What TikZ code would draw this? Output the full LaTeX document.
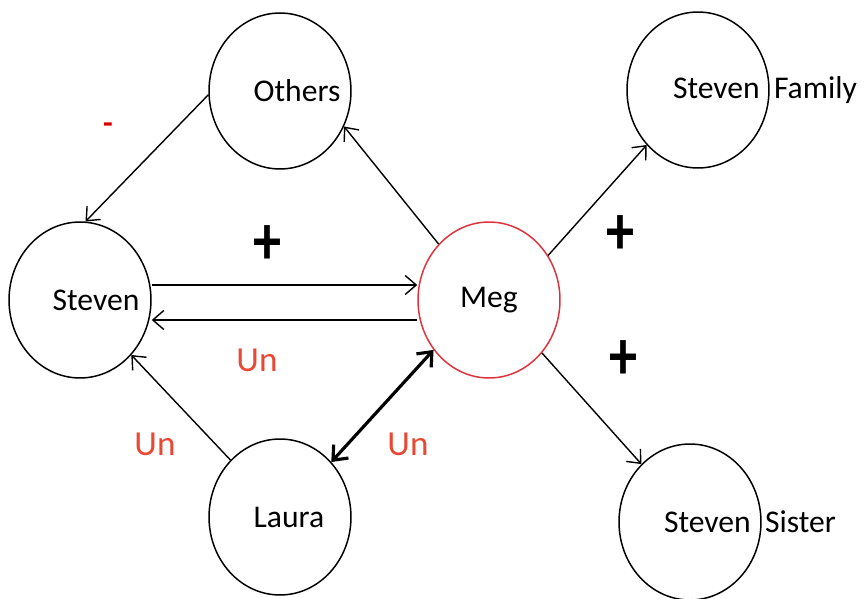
\documentclass[tikz,border=0pt]{standalone}
\usepackage{fontspec}
\usepackage{graphicx}
\setmainfont{Carlito}
\usetikzlibrary{shapes.geometric,arrows.meta}
\definecolor{unred}{RGB}{232,72,52}
\definecolor{megred}{RGB}{222,50,60}
\newcommand{\tallplus}{\scalebox{1}[1.25]{+}}
\begin{document}
\begin{tikzpicture}[x=0.02cm,y=-0.02cm,font=\fontsize{18}{21}\selectfont,
  person/.style={draw,ellipse,inner sep=0pt,minimum width=2.84cm,minimum height=3.12cm,line width=0.85pt},
  link/.style={line width=0.8pt,-{Straight Barb[length=2.2mm,width=3.8mm]}},
  sign/.style={font=\fontsize{32}{34}\selectfont\bfseries},
  un/.style={text=unred,font=\fontsize{20}{22}\selectfont}]
\useasboundingbox (0,0) rectangle (867,599);
\node[person,label={[xshift=0.34cm]center:Others}] (OTH) at (280,91) {};
\node[person,label={[xshift=0.32cm]center:Steven}] (STV) at (80,300) {};
\node[person,draw=megred,label={center:Meg}] (MEG) at (489,300) {};
\node[person,label={[xshift=1.34cm]center:Steven~~Family}] (FAM) at (698,90) {};
\node[person,label={[xshift=0.18cm]center:Laura}] (LAU) at (280,517) {};
\node[person,label={[xshift=1.2cm]center:Steven~~Sister}] (SIS) at (690,522) {};
\draw[link] (OTH.183) -- (STV.86);
\draw[link] (MEG.132) -- (OTH.331);
\draw[link] ([yshift=0.3cm]STV.east) -- ([yshift=0.3cm]MEG.west);
\draw[link] ([yshift=-0.4cm]MEG.west) -- ([yshift=-0.4cm]STV.east);
\draw[link] (LAU.131) -- (STV.313);
\draw[line width=1.8pt,{Straight Barb[length=2.4mm,width=4mm]}-{Straight Barb[length=2.4mm,width=4mm]}] (LAU.47) -- (MEG.222);
\draw[link] (MEG.37) -- (FAM.227);
\draw[link] (MEG.315) -- (SIS.130);
\node[text=red!85!black,font=\fontsize{18}{20}\selectfont\bfseries] (MIN) at (108,128) {-};
\node[sign] (PA) at (268,245) {\tallplus};
\node[un] (UA) at (257,360) {Un};
\node[un] (UB) at (155,444) {Un};
\node[un] (UC) at (408,444) {Un};
\node[sign] (PB) at (620,235) {\tallplus};
\node[sign] (PC) at (623,360) {\tallplus};
\end{tikzpicture}
\end{document}
